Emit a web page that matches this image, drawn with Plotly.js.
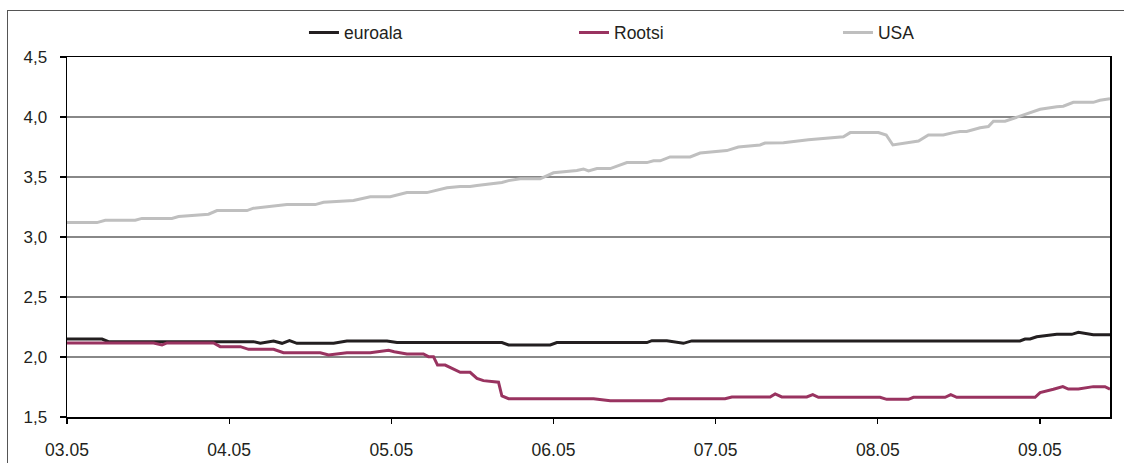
<!DOCTYPE html>
<html>
<head>
<meta charset="utf-8">
<script src="https://cdn.plot.ly/plotly-3.0.1.min.js"></script>
<style>
  html, body { margin: 0; padding: 0; background: #ffffff; }
  #wrap { position: relative; width: 1124px; height: 463px; overflow: hidden; }
  #chart { position: absolute; left: 0; top: 0; width: 1124px; height: 463px; }
  /* thin outer frame, open on the right and bottom */
  #frame { position: absolute; left: 7px; top: 10px; width: 1130px; height: 470px;
           border-top: 1.5px solid #555555; border-left: 1.5px solid #555555;
           pointer-events: none; }
</style>
</head>
<body>
<div id="wrap">
  <div id="chart"></div>
  <div id="frame"></div>
</div>
<script>
// Month positions: 0 = 03.05, 1 = 04.05, ... 6 = 09.05
const tickPositions = [0, 1, 2, 3, 4, 5, 6];
const tickLabels = ["03.05", "04.05", "05.05", "06.05", "07.05", "08.05", "09.05"];

// euroala
const euroX = [0.000, 0.216, 0.256, 1.150, 1.192, 1.274, 1.326, 1.372, 1.418, 1.644,
  1.726, 1.973, 2.035, 2.682, 2.723, 2.980, 3.021, 3.576, 3.607, 3.699,
  3.801, 3.853, 5.877, 5.908, 5.939, 5.980, 6.104, 6.196, 6.237, 6.329, 6.432];
const euroY = [2.15, 2.15, 2.128, 2.128, 2.114, 2.133, 2.114, 2.136, 2.114, 2.114,
  2.133, 2.133, 2.12, 2.12, 2.10, 2.10, 2.12, 2.12, 2.136, 2.136,
  2.114, 2.134, 2.134, 2.15, 2.15, 2.169, 2.189, 2.189, 2.206, 2.186, 2.186];

// Rootsi
const rootsiX = [0.000, 0.534, 0.586, 0.617, 0.904, 0.945, 1.069, 1.120, 1.274, 1.335,
  1.562, 1.613, 1.726, 1.870, 1.983, 2.018, 2.096, 2.198, 2.229, 2.260,
  2.285, 2.332, 2.425, 2.486, 2.528, 2.568, 2.661, 2.682, 2.723, 3.247,
  3.350, 3.668, 3.709, 4.058, 4.100, 4.336, 4.367, 4.408, 4.562, 4.599,
  4.634, 5.014, 5.055, 5.189, 5.220, 5.415, 5.450, 5.487, 5.970, 6.001,
  6.083, 6.141, 6.175, 6.237, 6.329, 6.401, 6.432];
const rootsiY = [2.117, 2.117, 2.10, 2.117, 2.117, 2.086, 2.086, 2.064, 2.064, 2.036,
  2.036, 2.017, 2.036, 2.036, 2.056, 2.044, 2.025, 2.025, 2.003, 2.003,
  1.933, 1.933, 1.872, 1.872, 1.822, 1.803, 1.79, 1.675, 1.653, 1.653,
  1.636, 1.636, 1.653, 1.653, 1.667, 1.667, 1.692, 1.667, 1.667, 1.686,
  1.664, 1.664, 1.647, 1.647, 1.664, 1.664, 1.686, 1.664, 1.664, 1.703,
  1.731, 1.753, 1.733, 1.733, 1.753, 1.753, 1.731];

// USA
const usaX = [0.000, 0.185, 0.236, 0.421, 0.462, 0.647, 0.688, 0.873, 0.925, 1.110,
  1.150, 1.315, 1.356, 1.531, 1.582, 1.767, 1.870, 1.993, 2.096, 2.219,
  2.343, 2.425, 2.486, 2.528, 2.682, 2.723, 2.795, 2.918, 3.000, 3.144,
  3.185, 3.216, 3.268, 3.350, 3.453, 3.576, 3.617, 3.658, 3.719, 3.843,
  3.904, 4.069, 4.140, 4.274, 4.305, 4.418, 4.521, 4.572, 4.788, 4.830,
  5.004, 5.052, 5.093, 5.220, 5.251, 5.312, 5.404, 5.466, 5.507, 5.548,
  5.631, 5.682, 5.713, 5.785, 5.908, 6.001, 6.104, 6.144, 6.206, 6.329,
  6.370, 6.432];
const usaY = [3.12, 3.12, 3.14, 3.14, 3.155, 3.155, 3.17, 3.19, 3.22, 3.22,
  3.24, 3.26, 3.27, 3.27, 3.29, 3.305, 3.335, 3.335, 3.37, 3.37,
  3.41, 3.42, 3.42, 3.43, 3.455, 3.47, 3.485, 3.485, 3.535, 3.555,
  3.567, 3.55, 3.57, 3.57, 3.62, 3.62, 3.635, 3.635, 3.667, 3.667,
  3.70, 3.72, 3.75, 3.767, 3.783, 3.785, 3.80, 3.81, 3.835, 3.87,
  3.87, 3.85, 3.767, 3.79, 3.80, 3.85, 3.85, 3.87, 3.88, 3.88,
  3.91, 3.92, 3.965, 3.965, 4.02, 4.064, 4.086, 4.09, 4.122, 4.122,
  4.14, 4.153];

const FONT = "Arial, 'Liberation Sans', sans-serif";
const TEXT = "#231f20";

const traces = [
  { name: "euroala", x: euroX, y: euroY, type: "scatter", mode: "lines",
    legend: "legend", line: { color: "#231f20", width: 3 } },
  { name: "Rootsi", x: rootsiX, y: rootsiY, type: "scatter", mode: "lines",
    legend: "legend2", line: { color: "#993360", width: 3 } },
  { name: "USA", x: usaX, y: usaY, type: "scatter", mode: "lines",
    legend: "legend3", line: { color: "#bfbfbf", width: 3 } }
];

// one single-entry legend per series, laid out in a row above the plot
function legendAt(xPaper) {
  return {
    orientation: "h", x: xPaper, xanchor: "left", y: 1.068, yanchor: "middle",
    font: { family: FONT, size: 17.5, color: TEXT },
    bgcolor: "rgba(0,0,0,0)", borderwidth: 0
  };
}

const layout = {
  width: 1124, height: 463,
  margin: { l: 67, r: 14, t: 57, b: 46, pad: 0 },
  paper_bgcolor: "#ffffff", plot_bgcolor: "#ffffff",
  separators: ", ",
  font: { family: FONT, size: 17, color: TEXT },
  showlegend: true,
  legend: legendAt(0.2272),
  legend2: legendAt(0.4861),
  legend3: legendAt(0.7392),
  xaxis: {
    range: [0, 6.432], tickvals: tickPositions, ticktext: tickLabels,
    showgrid: false, zeroline: false,
    showline: true, linecolor: "#000000", linewidth: 1.5, mirror: true,
    ticks: "outside", ticklen: 5, tickwidth: 1.2, tickcolor: "#000000",
    ticklabelstandoff: 11,
    tickfont: { family: FONT, size: 17.5, color: TEXT }
  },
  yaxis: {
    range: [1.5, 4.5], dtick: 0.5, tick0: 1.5, tickformat: ".1f",
    showgrid: true, gridcolor: "#888888", gridwidth: 1.5, zeroline: false,
    showline: true, linecolor: "#000000", linewidth: 1.5, mirror: true,
    ticks: "outside", ticklen: 6, tickwidth: 1.2, tickcolor: "#000000",
    ticklabelstandoff: 9,
    tickfont: { family: FONT, size: 17, color: TEXT }
  }
};

Plotly.newPlot("chart", traces, layout, { displayModeBar: false, staticPlot: true });
</script>
</body>
</html>
